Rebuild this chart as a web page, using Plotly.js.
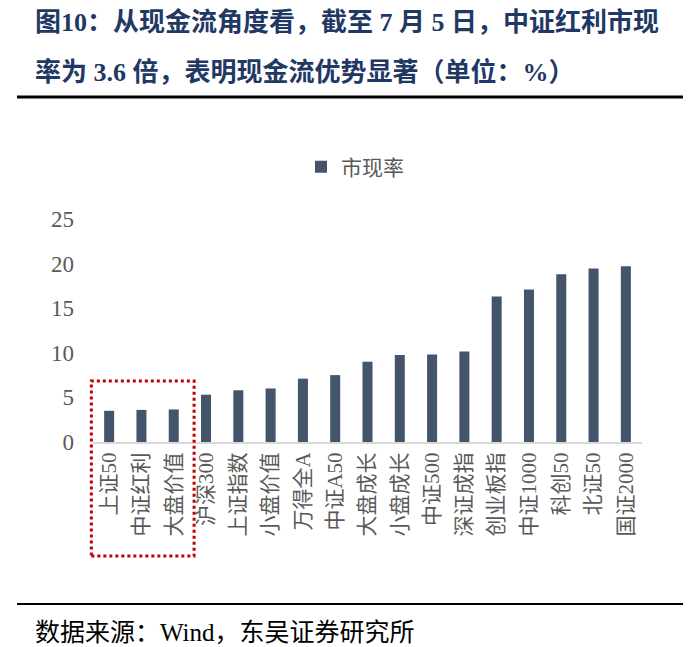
<!DOCTYPE html>
<html>
<head>
<meta charset="utf-8">
<script src="https://cdn.plot.ly/plotly-3.0.1.min.js"></script>
<style>html,body{margin:0;padding:0;background:#fff;}#chart{width:700px;height:647px;}</style>
</head>
<body>
<div id="chart"></div>
<script>
// ---- data ----
const categories = ["上证50","中证红利","大盘价值","沪深300","上证指数","小盘价值","万得全A","中证A50","大盘成长","小盘成长","中证500","深证成指","创业板指","中证1000","科创50","北证50","国证2000"];
const pcfValues = [3.5, 3.6, 3.65, 5.3, 5.8, 6.0, 7.1, 7.5, 9.0, 9.75, 9.8, 10.15, 16.3, 17.1, 18.8, 19.45, 19.7];
const seriesName = "市现率";
const yTicks = [0, 5, 10, 15, 20, 25];
const titleLines = ["图10：从现金流角度看，截至 7 月 5 日，中证红利市现", "率为 3.6 倍，表明现金流优势显著（单位：%）"];
const sourceText = "数据来源：Wind，东吴证券研究所";
const highlightCount = 3;

// ---- layout helpers (pixel -> paper) ----
const W = 700, H = 647;
const M = {l: 93, r: 58, t: 219, b: 205};
const PW = W - M.l - M.r, PH = H - M.t - M.b;
const px = x => (x - M.l) / PW;
const py = y => (H - M.b - y) / PH;

const serif = "'Liberation Serif', 'Noto Sans CJK SC', serif";
const gray = "#595959";

const trace = {
  type: "bar",
  x: categories,
  y: pcfValues,
  name: seriesName,
  marker: {color: "#44546A"},
  showlegend: true
};

const layout = {
  width: W, height: H,
  margin: M,
  paper_bgcolor: "#fff",
  plot_bgcolor: "#fff",
  bargap: 0.69,
  font: {family: serif, color: gray},
  showlegend: true,
  legend: {
    orientation: "h",
    x: px(355), y: py(167), xanchor: "center", yanchor: "middle",
    font: {family: serif, size: 21, color: gray},
    itemwidth: 30
  },
  xaxis: {
    type: "category",
    tickangle: -90,
    tickfont: {family: serif, size: 21, color: gray},
    showline: true, linecolor: "#d9d9d9", linewidth: 2,
    showgrid: false, zeroline: false,
    ticks: ""
  },
  yaxis: {
    range: [0, 25],
    tickvals: yTicks,
    ticktext: yTicks.map(String),
    tickfont: {family: serif, size: 23, color: gray},
    showgrid: false, zeroline: false, showline: false,
    ticks: "",
    ticklabelstandoff: 18
  },
  shapes: [
    // top rule
    {type: "line", xref: "paper", yref: "paper", x0: px(17), x1: px(683), y0: py(97), y1: py(97), line: {color: "#000", width: 3}},
    // bottom rule
    {type: "line", xref: "paper", yref: "paper", x0: px(17), x1: px(683), y0: py(604), y1: py(604), line: {color: "#000", width: 2}},
    // highlight box around first categories
    {type: "rect", xref: "x domain", yref: "paper",
     x0: -0.003, x1: (highlightCount + 0.13) / categories.length,
     y0: py(556), y1: py(381),
     line: {color: "#C00000", width: 3, dash: "dot"}, fillcolor: "rgba(0,0,0,0)"}
  ],
  annotations: [
    {xref: "paper", yref: "paper", x: px(33), y: py(23), xanchor: "left", yanchor: "middle", showarrow: false,
     text: "<b>" + titleLines[0] + "</b>", font: {family: serif, size: 26, color: "#1F3864"}},
    {xref: "paper", yref: "paper", x: px(33), y: py(72), xanchor: "left", yanchor: "middle", showarrow: false,
     text: "<b>" + titleLines[1] + "</b>", font: {family: serif, size: 26, color: "#1F3864"}},
    {xref: "paper", yref: "paper", x: px(33), y: py(632), xanchor: "left", yanchor: "middle", showarrow: false,
     text: sourceText, font: {family: serif, size: 25, color: "#000"}}
  ]
};

Plotly.newPlot("chart", [trace], layout, {displayModeBar: false, staticPlot: true});
</script>
</body>
</html>
